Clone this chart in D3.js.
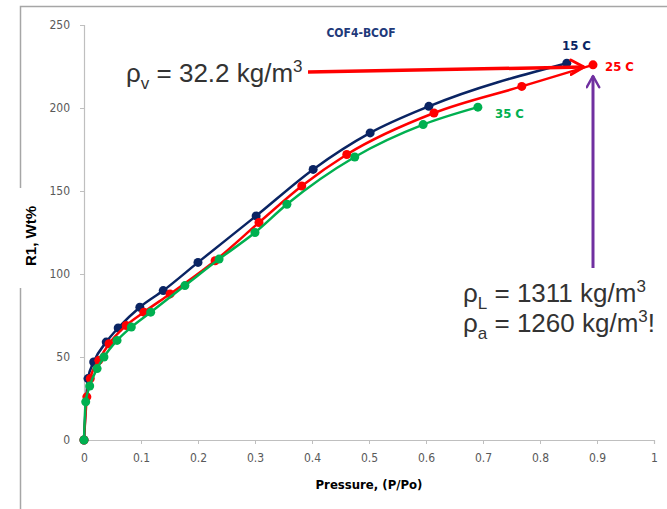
<!DOCTYPE html>
<html>
<head>
<meta charset="utf-8">
<script src="https://cdn.jsdelivr.net/npm/d3@7/dist/d3.min.js"></script>
<style>
  html, body { margin: 0; padding: 0; background: #fff; }
  svg { display: block; }
</style>
</head>
<body>
<svg id="chart"></svg>
<script>
const width = 667, height = 509;
const margin = { top: 25, right: 13, bottom: 69, left: 84 };

// isotherms: relative pressure P/Po and uptake R1 (Wt%)
const x15 = [0, 0.007, 0.017, 0.039, 0.06, 0.098, 0.139, 0.2, 0.302, 0.402, 0.502, 0.605, 0.847];
const y15 = [0, 37, 47, 59, 67.5, 80, 90, 107, 135, 163, 185, 201, 227];
const x25 = [0, 0.005, 0.011, 0.026, 0.044, 0.074, 0.105, 0.151, 0.23, 0.307, 0.382, 0.461, 0.614, 0.768, 0.893];
const y25 = [0, 26, 37, 48, 58, 69, 77, 88, 108, 131, 153, 172, 197, 213, 226];
const x35 = [0, 0.003, 0.01, 0.023, 0.035, 0.058, 0.083, 0.117, 0.177, 0.237, 0.3, 0.356, 0.475, 0.595, 0.691];
const y35 = [0, 23, 32.5, 43, 50, 60, 68, 77, 93, 109, 125, 142, 170.5, 190, 200.5];

const seriesNames = ["15 C", "25 C", "35 C"];
const seriesColors = ["#0a2463", "#ff0000", "#00b050"];

const xTicks = [0, 0.1, 0.2, 0.3, 0.4, 0.5, 0.6, 0.7, 0.8, 0.9, 1];
const yTicks = [0, 50, 100, 150, 200, 250];

const series = [
  { name: seriesNames[0], color: seriesColors[0], pts: x15.map((v, i) => [v, y15[i]]) },
  { name: seriesNames[1], color: seriesColors[1], pts: x25.map((v, i) => [v, y25[i]]) },
  { name: seriesNames[2], color: seriesColors[2], pts: x35.map((v, i) => [v, y35[i]]) }
];

const narrow = "'Liberation Sans Narrow', 'DejaVu Sans Condensed', 'Open Sans', sans-serif";
const arial = "'Liberation Sans', Arial, sans-serif";

const svg = d3.select("#chart")
  .attr("width", width)
  .attr("height", height);

svg.append("defs").html(`
  <marker id="headRed" viewBox="0 0 12 12" refX="10" refY="6" markerWidth="5" markerHeight="5" orient="auto" markerUnits="strokeWidth">
    <path d="M1,1 L10,6 L1,11" fill="none" stroke="#ff0000" stroke-width="2" stroke-linecap="round" stroke-linejoin="round"/>
  </marker>
  <marker id="headPurple" viewBox="0 0 12 12" refX="10" refY="6" markerWidth="5" markerHeight="5" orient="auto" markerUnits="strokeWidth">
    <path d="M1,1 L10,6 L1,11" fill="none" stroke="#7030a0" stroke-width="2" stroke-linecap="round" stroke-linejoin="round"/>
  </marker>`);

// slide frame (top and left), broken around the y title
svg.append("path")
  .attr("d", "M667,6.5 H20.5 V188 M20.5,288 V509")
  .attr("fill", "none")
  .attr("stroke", "#a6a6a6")
  .attr("stroke-width", 1.5);

const x = d3.scaleLinear().domain([0, 1]).range([margin.left, width - margin.right]);
const y = d3.scaleLinear().domain([0, 250]).range([height - margin.bottom, margin.top]);
const y0 = y(0);

// axes
const xAxis = svg.append("g")
  .attr("transform", `translate(0,${y0})`)
  .call(d3.axisBottom(x).tickValues(xTicks).tickSize(4).tickPadding(9).tickFormat(d3.format("~g")));
const yAxis = svg.append("g")
  .attr("transform", `translate(${margin.left},0)`)
  .call(d3.axisLeft(y).tickValues(yTicks).tickSize(4).tickPadding(10));

[xAxis, yAxis].forEach(g => {
  g.select(".domain").attr("stroke", "#bfbfbf").attr("stroke-width", 1.2);
  g.selectAll(".tick line").attr("stroke", "#bfbfbf");
  g.selectAll(".tick text")
    .attr("fill", "#595959")
    .style("font-family", narrow)
    .style("font-size", "12px");
});

// axis titles
svg.append("text")
  .attr("x", x(0.5))
  .attr("y", 489)
  .attr("text-anchor", "middle")
  .style("font-family", narrow)
  .style("font-size", "13px")
  .style("font-weight", "bold")
  .attr("fill", "#000")
  .text("Pressure, (P/Po)");

svg.append("text")
  .attr("transform", "translate(36,236) rotate(-90)")
  .attr("text-anchor", "middle")
  .style("font-family", arial)
  .style("font-size", "15px")
  .style("font-weight", "bold")
  .attr("fill", "#000")
  .text("R1, Wt%");

// title
svg.append("text")
  .attr("x", 361)
  .attr("y", 37)
  .attr("text-anchor", "middle")
  .style("font-family", narrow)
  .style("font-size", "12px")
  .style("font-weight", "bold")
  .attr("fill", "#1f3a7a")
  .text("COF4-BCOF");

// curves
const line = d3.line()
  .x(d => x(d[0]))
  .y(d => y(d[1]))
  .curve(d3.curveMonotoneX);

const grp = svg.selectAll(".series")
  .data(series)
  .join("g")
  .attr("class", "series");

grp.append("path")
  .attr("d", d => line(d.pts))
  .attr("fill", "none")
  .attr("stroke", d => d.color)
  .attr("stroke-width", 2.5);

grp.selectAll("circle")
  .data(d => d.pts.map(p => ({ p, color: d.color })))
  .join("circle")
  .attr("cx", d => x(d.p[0]))
  .attr("cy", d => y(d.p[1]))
  .attr("r", 4.5)
  .attr("fill", d => d.color);

// series labels
const labelPos = [[562, 50], [605, 71], [495, 118]];
svg.selectAll(".slabel")
  .data(series)
  .join("text")
  .attr("class", "slabel")
  .attr("x", (d, i) => labelPos[i][0])
  .attr("y", (d, i) => labelPos[i][1])
  .style("font-family", narrow)
  .style("font-size", "13px")
  .style("font-weight", "bold")
  .attr("fill", d => d.color)
  .text(d => d.name);

// annotations
function rhoText(xp, yp, sub, rest, tail) {
  const t = svg.append("text")
    .attr("x", xp)
    .attr("y", yp)
    .style("font-family", arial)
    .style("font-size", "26px")
    .attr("fill", "#333");
  t.append("tspan").text("ρ");
  t.append("tspan").attr("dy", 7).style("font-size", "17px").text(sub);
  t.append("tspan").attr("dy", -7).text(rest);
  t.append("tspan").attr("dy", -10).style("font-size", "17px").text("3");
  if (tail) t.append("tspan").attr("dy", 10).text(tail);
}

rhoText(126, 82, "v", " = 32.2 kg/m", null);
rhoText(463, 302, "L", " = 1311 kg/m", null);
rhoText(463, 332, "a", " = 1260 kg/m", "!");

// red arrow to 25 C end point
svg.append("line")
  .attr("x1", 308).attr("y1", 72)
  .attr("x2", 584).attr("y2", 67)
  .attr("stroke", "#ff0000")
  .attr("stroke-width", 3.5)
  .attr("marker-end", "url(#headRed)");

// purple arrow up
svg.append("line")
  .attr("x1", 593).attr("y1", 268)
  .attr("x2", 593).attr("y2", 76)
  .attr("stroke", "#7030a0")
  .attr("stroke-width", 3)
  .attr("marker-end", "url(#headPurple)");
</script>
</body>
</html>
